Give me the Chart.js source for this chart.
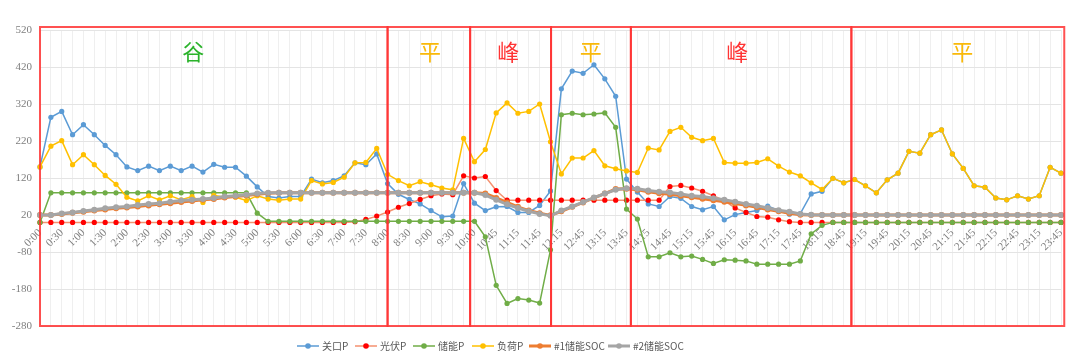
<!DOCTYPE html>
<html><head><meta charset="utf-8">
<script src="https://cdn.jsdelivr.net/npm/chart.js@4.4.0/dist/chart.umd.min.js"></script>
<style>html,body{margin:0;padding:0;background:#fff;}#wrap{width:1080px;height:363px;}</style>
</head><body><div id="wrap"><canvas id="c" width="1080" height="363"></canvas></div>
<script>
const categories = ['0:00','0:15','0:30','0:45','1:00','1:15','1:30','1:45','2:00','2:15','2:30','2:45','3:00','3:15','3:30','3:45','4:00','4:15','4:30','4:45','5:00','5:15','5:30','5:45','6:00','6:15','6:30','6:45','7:00','7:15','7:30','7:45','8:00','8:15','8:30','8:45','9:00','9:15','9:30','9:45','10:00','10:15','10:45','11:00','11:15','11:30','11:45','12:00','12:15','12:30','12:45','13:00','13:15','13:30','13:45','14:00','14:15','14:30','14:45','15:00','15:15','15:30','15:45','16:00','16:15','16:30','16:45','17:00','17:15','17:30','17:45','18:00','18:15','18:30','18:45','19:00','19:15','19:30','19:45','20:00','20:15','20:30','20:45','21:00','21:15','21:30','21:45','22:00','22:15','22:30','22:45','23:00','23:15','23:30','23:45'];

const seriesNames = ['关口P','光伏P','储能P','负荷P','#1储能SOC','#2储能SOC'];

const gatewayP = [150,284,300,237,264,237,208,183,150,140,152,140,152,140,152,136,157,149,149,125,96,70,66,70,70,117,107,113,126,161,156,185,105,76,62,50,32,15,17,105,52,32,42,43,27,27,46,85,361,409,403,426,388,341,117,82,50,43,70,65,43,34,43,7,21,27,32,44,32,22,24,77,84,119,107,116,99,80,115,133,192,187,237,250,185,146,99,95,66,61,72,63,72,149,133];
const pvP = [0,0,0,0,0,0,0,0,0,0,0,0,0,0,0,0,0,0,0,0,0,0,0,0,0,0,0,0,0,2,8,17,28,41,51,62,72,77,75,126,120,124,86,60,60,60,60,60,60,60,60,60,60,60,60,60,60,60,97,100,93,84,72,59,39,27,16,14,7,2,0,0,0,0,0,0,0,0,0,0,0,0,0,0,0,0,0,0,0,0,0,0,0,0,0];
const storageP = [0,80,80,80,80,80,80,80,80,80,80,80,80,80,80,80,80,80,80,80,25,3,3,3,3,3,3,3,3,3,3,3,3,3,3,3,3,3,3,3,3,-39,-170,-219,-206,-210,-218,-74,291,295,291,293,296,257,36,9,-93,-93,-82,-93,-91,-100,-111,-101,-102,-104,-113,-113,-113,-113,-104,-31,-8,0,0,0,0,0,0,0,0,0,0,0,0,0,0,0,0,0,0,0,0,0,0];
const loadP = [150,206,221,156,183,156,127,103,68,58,72,61,72,61,70,54,73,68,68,59,72,63,60,63,63,113,104,108,122,161,162,200,130,113,99,110,102,93,88,227,164,197,296,323,295,300,320,218,131,174,174,194,153,145,139,135,201,196,246,257,230,221,227,162,160,160,162,172,152,136,126,107,89,119,107,116,99,80,115,133,192,187,237,250,185,146,99,95,66,61,72,63,72,149,133];
const soc1 = [20,20,23,26,29,32,35,38,40,43,46,49,52,55,58,61,63,67,70,73,76,79,80,80,80,80,80,80,80,80,80,80,80,80,80,80,80,80,80,80,80,78,66,54,42,32,25,19,30,42,54,66,78,90,91,88,83,79,76,72,68,64,60,56,51,46,41,35,30,25,21,20,20,20,20,20,20,20,20,20,20,20,20,20,20,20,20,20,20,20,20,20,20,20,20];
const soc2 = [20,20,24,27,31,34,38,41,43,47,50,52,56,59,61,63,66,70,72,75,78,80,80,80,80,80,80,80,80,80,80,80,80,80,80,80,80,80,80,80,80,74,61,49,39,30,23,18,32,43,55,67,78,88,92,91,86,83,81,77,72,70,65,61,56,50,45,39,33,29,23,21,20,20,20,20,20,20,20,20,20,20,20,20,20,20,20,20,20,20,20,20,20,20,20];

const yTicksMin = -280, yTicksMax = 520, yTickStep = 100;

const periodNames = ['谷','平','峰','平','峰','平'];
const periodBounds = [0, 32, 39.6, 47.05, 54.4, 74.7, 94.3];
const periodLabelAt = [14.1, 35.9, 43.1, 50.7, 64.2, 84.9];

const periodColor = {'谷':'#2bb32b','平':'#f9b90a','峰':'#ff3434'};

const periodPlugin = {
  id:'periods',
  afterDatasetsDraw(chart){
    const c = chart.ctx, xs = chart.scales.x, a = chart.chartArea;
    c.save();
    c.strokeStyle = 'rgba(255,50,50,0.85)';
    c.lineWidth = 2;
    for (let i=0;i<periodNames.length;i++){
      const x1 = xs.getPixelForValue(periodBounds[i]);
      const x2 = xs.getPixelForValue(periodBounds[i+1]);
      c.strokeRect(x1, a.top-3, x2-x1, a.bottom-a.top+3);
    }
    c.font = '22px "Noto Sans CJK SC"';
    c.textAlign = 'center'; c.textBaseline = 'middle';
    for (let i=0;i<periodNames.length;i++){
      c.fillStyle = periodColor[periodNames[i]];
      c.fillText(periodNames[i], xs.getPixelForValue(periodLabelAt[i]), 52);
    }
    c.restore();
  }
};

const legendPlugin = {
  id:'customLegend',
  afterDraw(chart){
    const c = chart.ctx;
    const xs = [297,355,413,472,529,608];
    const y = 346;
    c.save();
    c.font = '10px "Noto Sans CJK SC"';
    c.textBaseline = 'middle';
    c.textAlign = 'left';
    chart.data.datasets.forEach((ds,i)=>{
      const x = xs[i];
      c.strokeStyle = ds.borderColor; c.lineWidth = ds.borderWidth;
      c.beginPath(); c.moveTo(x,y); c.lineTo(x+22,y); c.stroke();
      c.fillStyle = ds.pointBackgroundColor;
      c.beginPath(); c.arc(x+11,y,2.8,0,Math.PI*2); c.fill();
      c.fillStyle = '#595959';
      c.fillText(ds.label, x+25, y+0.5);
    });
    c.restore();
  }
};

function ds(label, data, line, point, width, radius, order){
  return {label, data, borderColor:line, backgroundColor:point, pointBackgroundColor:point,
    pointBorderWidth:0, pointRadius:radius, borderWidth:width, tension:0, fill:false, order};
}

new Chart(document.getElementById('c'), {
  type:'line',
  data:{
    labels:categories,
    datasets:[
      ds(seriesNames[0], gatewayP, '#5b9bd5', '#5b9bd5', 1.5, 2.6, 6),
      ds(seriesNames[1], pvP, '#f4916f', '#ff0000', 1.5, 2.6, 5),
      ds(seriesNames[2], storageP, '#70ad47', '#70ad47', 1.5, 2.6, 4),
      ds(seriesNames[3], loadP, '#ffc000', '#ffc000', 1.5, 2.6, 3),
      ds(seriesNames[4], soc1, '#ed7d31', '#ed7d31', 3, 3, 2),
      ds(seriesNames[5], soc2, '#a5a5a5', '#a5a5a5', 3, 3, 1)
    ]
  },
  options:{
    responsive:false,
    animation:false,
    events:[],
    layout:{padding:{top:30,right:19,bottom:37,left:0}},
    plugins:{legend:{display:false}, tooltip:{enabled:false}},
    scales:{
      x:{
        type:'category', position:{y:0}, offset:false,
        grid:{color:'#efefef', drawTicks:false, lineWidth:1},
        border:{display:false},
        ticks:{autoSkip:false, maxRotation:45, minRotation:45, padding:4, color:'#7f7f7f',
          font:{family:'Liberation Serif', size:11},
          callback:(v,i)=> (i%2===0 ? categories[i] : '')}
      },
      y:{
        min:yTicksMin, max:yTicksMax,
        ticks:{stepSize:yTickStep, color:'#7f7f7f', padding:8, font:{family:'Liberation Serif', size:11}},
        grid:{color:'#e4e4e4', drawTicks:false, lineWidth:1},
        border:{display:false},
        afterFit(s){ s.width = 40; }
      }
    }
  },
  plugins:[periodPlugin, legendPlugin]
});
</script>
</body></html>
